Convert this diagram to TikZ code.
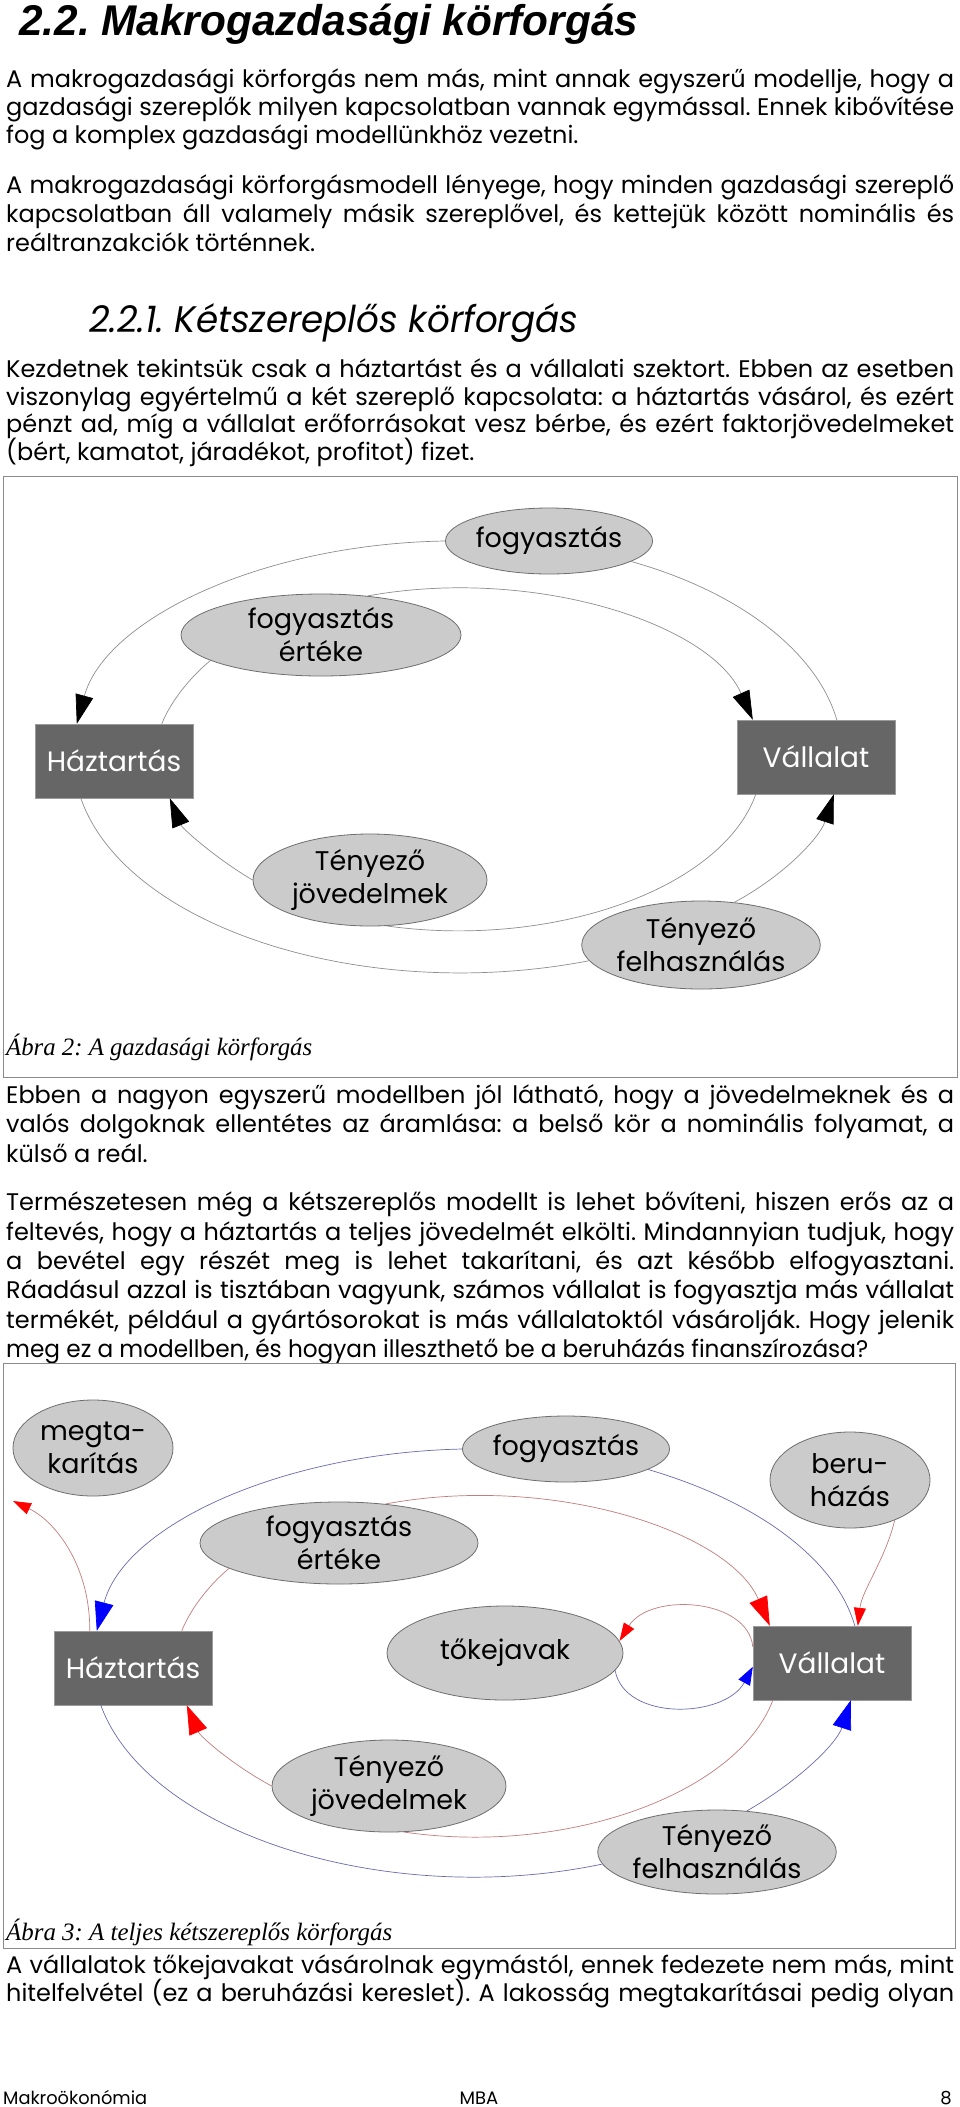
\documentclass[tikz,border=0pt]{standalone}
\usepackage{fontspec}
\usepackage{graphicx}
\setmainfont{Poppins}
\newfontfamily\titlefont{Liberation Sans}
\newfontfamily\capfont{Liberation Serif}
\usetikzlibrary{shapes.geometric,arrows.meta,calc}
\definecolor{ellfill}{HTML}{CBCBCB}
\definecolor{ellline}{HTML}{6E6E6E}
\definecolor{boxfill}{HTML}{666666}
\definecolor{boxline}{HTML}{9A9A9A}
\definecolor{lgray}{HTML}{8E8E8E}
\definecolor{bluecol}{HTML}{6A6AAE}
\definecolor{redcol}{HTML}{C47C7C}
\definecolor{framegray}{HTML}{8A8A8A}
\frenchspacing
\newlength\jlw
\newcommand\jline[1]{\settowidth\jlw{#1}\ifdim\jlw>948pt\resizebox{948pt}{\height}{#1}\else\makebox[948pt][s]{#1}\fi}
\tikzset{
  bodyline/.style={anchor=base west, inner sep=0pt, font=\fontsize{24}{28}\selectfont},
  ell/.style={ellipse, draw=ellline, fill=ellfill, line width=0.8pt, inner sep=0pt, align=center, font=\fontsize{27}{33}\selectfont},
  actor/.style={rectangle, draw=boxline, fill=boxfill, text=white, minimum width=158pt, minimum height=74pt, inner sep=0pt, font=\fontsize{28}{32}\selectfont},
  graycon/.style={draw=lgray, line width=0.7pt},
  bluecon/.style={draw=bluecol, line width=0.7pt},
  redcon/.style={draw=redcol, line width=0.7pt},
  ktip/.style={-{Triangle[length=29pt,width=18pt,color=black]}},
  btip/.style={-{Triangle[length=29pt,width=19pt,color=blue]}},
  rtip/.style={-{Triangle[length=29pt,width=19pt,color=red]}},
  btips/.style={-{Triangle[length=18pt,width=13pt,color=blue]}},
  rtips/.style={-{Triangle[length=18pt,width=12pt,color=red]}},
  framebox/.style={draw=framegray, line width=1pt},
  capline/.style={anchor=base west, inner sep=0pt, font=\capfont\itshape\fontsize{25}{25}\selectfont},
}
\begin{document}
\begin{tikzpicture}[x=1pt,y=-1pt]
\useasboundingbox (0,0) rectangle (960,2107);
\fill[white] (0,0) rectangle (960,2107);

% title
\node[anchor=base west, inner sep=0pt] (title) at (19,35) {\resizebox{619pt}{\height}{\titlefont\bfseries\itshape\fontsize{43}{43}\selectfont 2.2. Makrogazdasági körforgás}};

% paragraph 1
\node[bodyline] (p1a) at (6,87) {\jline{A makrogazdasági körforgás nem más, mint annak egyszerű modellje, hogy a}};
\node[bodyline] (p1b) at (6,115) {\jline{gazdasági szereplők milyen kapcsolatban vannak egymással. Ennek kibővítése}};
\node[bodyline] (p1c) at (6,143) {fog a komplex gazdasági modellünkhöz vezetni.};
% paragraph 2
\node[bodyline] (p2a) at (6,193) {\jline{A makrogazdasági körforgásmodell lényege, hogy minden gazdasági szereplő}};
\node[bodyline] (p2b) at (6,222) {\jline{kapcsolatban áll valamely másik szereplővel, és kettejük között nominális és}};
\node[bodyline] (p2c) at (6,251) {reáltranzakciók történnek.};
% heading
\node[anchor=base west, inner sep=0pt] (head) at (89,332) {\resizebox{489pt}{\height}{\fontsize{37}{37}\selectfont\itshape 2.2.1. Kétszereplős körforgás}};
% paragraph 3
\node[bodyline] (p3a) at (6,377) {\jline{Kezdetnek tekintsük csak a háztartást és a vállalati szektort. Ebben az esetben}};
\node[bodyline] (p3b) at (6,405) {\jline{viszonylag egyértelmű a két szereplő kapcsolata: a háztartás vásárol, és ezért}};
\node[bodyline] (p3c) at (6,432) {\jline{pénzt ad, míg a vállalat erőforrásokat vesz bérbe, és ezért faktorjövedelmeket}};
\node[bodyline] (p3d) at (6,460) {(bért, kamatot, járadékot, profitot) fizet.};

% ===== figure 1 =====
\draw[framebox] (3,476) rectangle (957,1077);
\node[ell, minimum width=206pt, minimum height=66pt] (f1) at (549,541) {fogyasztás};
\node[ell, minimum width=280pt, minimum height=82pt] (fe1) at (321,635) {fogyasztás\\értéke};
\node[actor] (h1) at (114,761) {Háztartás};
\node[actor] (v1) at (816,757) {Vállalat};
\node[ell, minimum width=234pt, minimum height=92pt] (tj1) at (370,880) {Tényező\\jövedelmek};
\node[ell, minimum width=234pt, minimum height=88pt] (tf1) at (701,945) {Tényező\\felhasználás};

\draw[graycon, ktip] (f1.west) .. controls (260,544) and (105,620) .. ($(h1.north west)+(42,0)$);
\draw[graycon] (f1.-14) .. controls (740,592) and (817,652) .. ($(v1.north west)+(100,0)$);
\draw[graycon, ktip] (fe1.40) .. controls (532,566) and (710,623) .. ($(v1.north west)+(16,0)$);
\draw[graycon] ($(h1.north west)+(127,0)$) .. controls (170,703) and (189,678) .. (fe1.193);
\draw[graycon, ktip] (tj1.west) .. controls (215,858) and (182,828) .. ($(h1.south west)+(135,0)$);
\draw[graycon] ($(v1.south west)+(19,0)$) .. controls (722,889) and (553,949) .. (tj1.-70);
\draw[graycon] ($(h1.south west)+(46,0)$) .. controls (126,928) and (365,1004) .. (tf1.188);
\draw[graycon, ktip] (tf1.52) .. controls (785,875) and (820,837) .. ($(v1.south west)+(97,0)$);

\node[capline] (cap1) at (6,1055) {\resizebox{306pt}{\height}{Ábra 2: A gazdasági körforgás}};

% paragraph 4
\node[bodyline] (p4a) at (6,1103) {\jline{Ebben a nagyon egyszerű modellben jól látható, hogy a jövedelmeknek és a}};
\node[bodyline] (p4b) at (6,1132) {\jline{valós dolgoknak ellentétes az áramlása: a belső kör a nominális folyamat, a}};
\node[bodyline] (p4c) at (6,1162) {külső a reál.};
% paragraph 5
\node[bodyline] (p5a) at (6,1210) {\jline{Természetesen még a kétszereplős modellt is lehet bővíteni, hiszen erős az a}};
\node[bodyline] (p5b) at (6,1240) {\jline{feltevés, hogy a háztartás a teljes jövedelmét elkölti. Mindannyian tudjuk, hogy}};
\node[bodyline] (p5c) at (6,1269) {\jline{a bevétel egy részét meg is lehet takarítani, és azt később elfogyasztani.}};
\node[bodyline] (p5d) at (6,1298) {\jline{Ráadásul azzal is tisztában vagyunk, számos vállalat is fogyasztja más vállalat}};
\node[bodyline] (p5e) at (6,1328) {\jline{termékét, például a gyártósorokat is más vállalatoktól vásárolják. Hogy jelenik}};
\node[bodyline] (p5f) at (6,1357) {\resizebox{862pt}{\height}{meg ez a modellben, és hogyan illeszthető be a beruházás finanszírozása?}};

% ===== figure 2 =====
\draw[framebox] (3,1363) rectangle (955,1948);
\node[ell, minimum width=160pt, minimum height=96pt] (mk) at (93,1448) {megta-\\karítás};
\node[ell, minimum width=206pt, minimum height=66pt] (f2) at (566,1449) {fogyasztás};
\node[ell, minimum width=160pt, minimum height=96pt] (bh) at (850,1480) {beru-\\házás};
\node[ell, minimum width=278pt, minimum height=82pt] (fe2) at (339,1543) {fogyasztás\\értéke};
\node[ell, minimum width=236pt, minimum height=94pt] (tk) at (505,1653) {tőkejavak};
\node[actor] (h2) at (133,1668) {Háztartás};
\node[actor] (v2) at (832,1663) {Vállalat};
\node[ell, minimum width=234pt, minimum height=92pt] (tj2) at (389,1786) {Tényező\\jövedelmek};
\node[ell, minimum width=234pt, minimum height=84pt] (tf2) at (717,1852) {Tényező\\felhasználás};
\coordinate (mkend) at (13,1501);

\draw[bluecon, btip] (f2.west) .. controls (280,1453) and (124,1526) .. ($(h2.north west)+(43,0)$);
\draw[bluecon] (f2.-14) .. controls (759,1502) and (836,1560) .. ($(v2.north west)+(102,0)$);
\draw[bluecon] ($(h2.south west)+(47,0)$) .. controls (148,1834) and (388,1909) .. (tf2.186);
\draw[bluecon, btip] (tf2.54) .. controls (799,1781) and (837,1743) .. ($(v2.south west)+(98,0)$);
\draw[redcon, rtip] (fe2.40) .. controls (551,1473) and (729,1531) .. ($(v2.north west)+(17,0)$);
\draw[redcon] ($(h2.north west)+(128,0)$) .. controls (190,1610) and (208,1586) .. (fe2.193);
\draw[redcon, rtip] (tj2.west) .. controls (231,1764) and (200,1736) .. ($(h2.south west)+(133,0)$);
\draw[redcon] ($(v2.south west)+(20,0)$) .. controls (738,1793) and (568,1856) .. (tj2.-72);
\draw[redcon, rtips] ($(h2.north west)+(36,0)$) .. controls (90,1565) and (55,1521) .. (mkend);
\draw[redcon, rtips] (bh.-42) .. controls (885,1560) and (862,1590) .. ($(v2.north west)+(105,0)$);
\draw[redcon, rtips] ($(v2.north west)+(0,21)$) .. controls (748,1598) and (650,1592) .. (tk.6);
\draw[bluecon, btips] (tk.-9) .. controls (625,1722) and (725,1718) .. ($(v2.north west)+(0,41)$);

\node[capline] (cap2) at (6,1940) {\resizebox{386pt}{\height}{Ábra 3: A teljes kétszereplős körforgás}};

% paragraph 6
\node[bodyline] (p6a) at (6,1973) {\jline{A vállalatok tőkejavakat vásárolnak egymástól, ennek fedezete nem más, mint}};
\node[bodyline] (p6b) at (6,2001) {\jline{hitelfelvétel (ez a beruházási kereslet). A lakosság megtakarításai pedig olyan}};

% footer
\node[anchor=base west, inner sep=0pt, font=\fontsize{18}{18}\selectfont] (foot1) at (3,2104) {\resizebox{144pt}{\height}{Makroökonómia}};
\node[anchor=base, inner sep=0pt, font=\fontsize{18}{18}\selectfont] (foot2) at (479,2104) {MBA};
\node[anchor=base east, inner sep=0pt, font=\fontsize{18}{18}\selectfont] (foot3) at (952,2104) {8};
\end{tikzpicture}
\end{document}
